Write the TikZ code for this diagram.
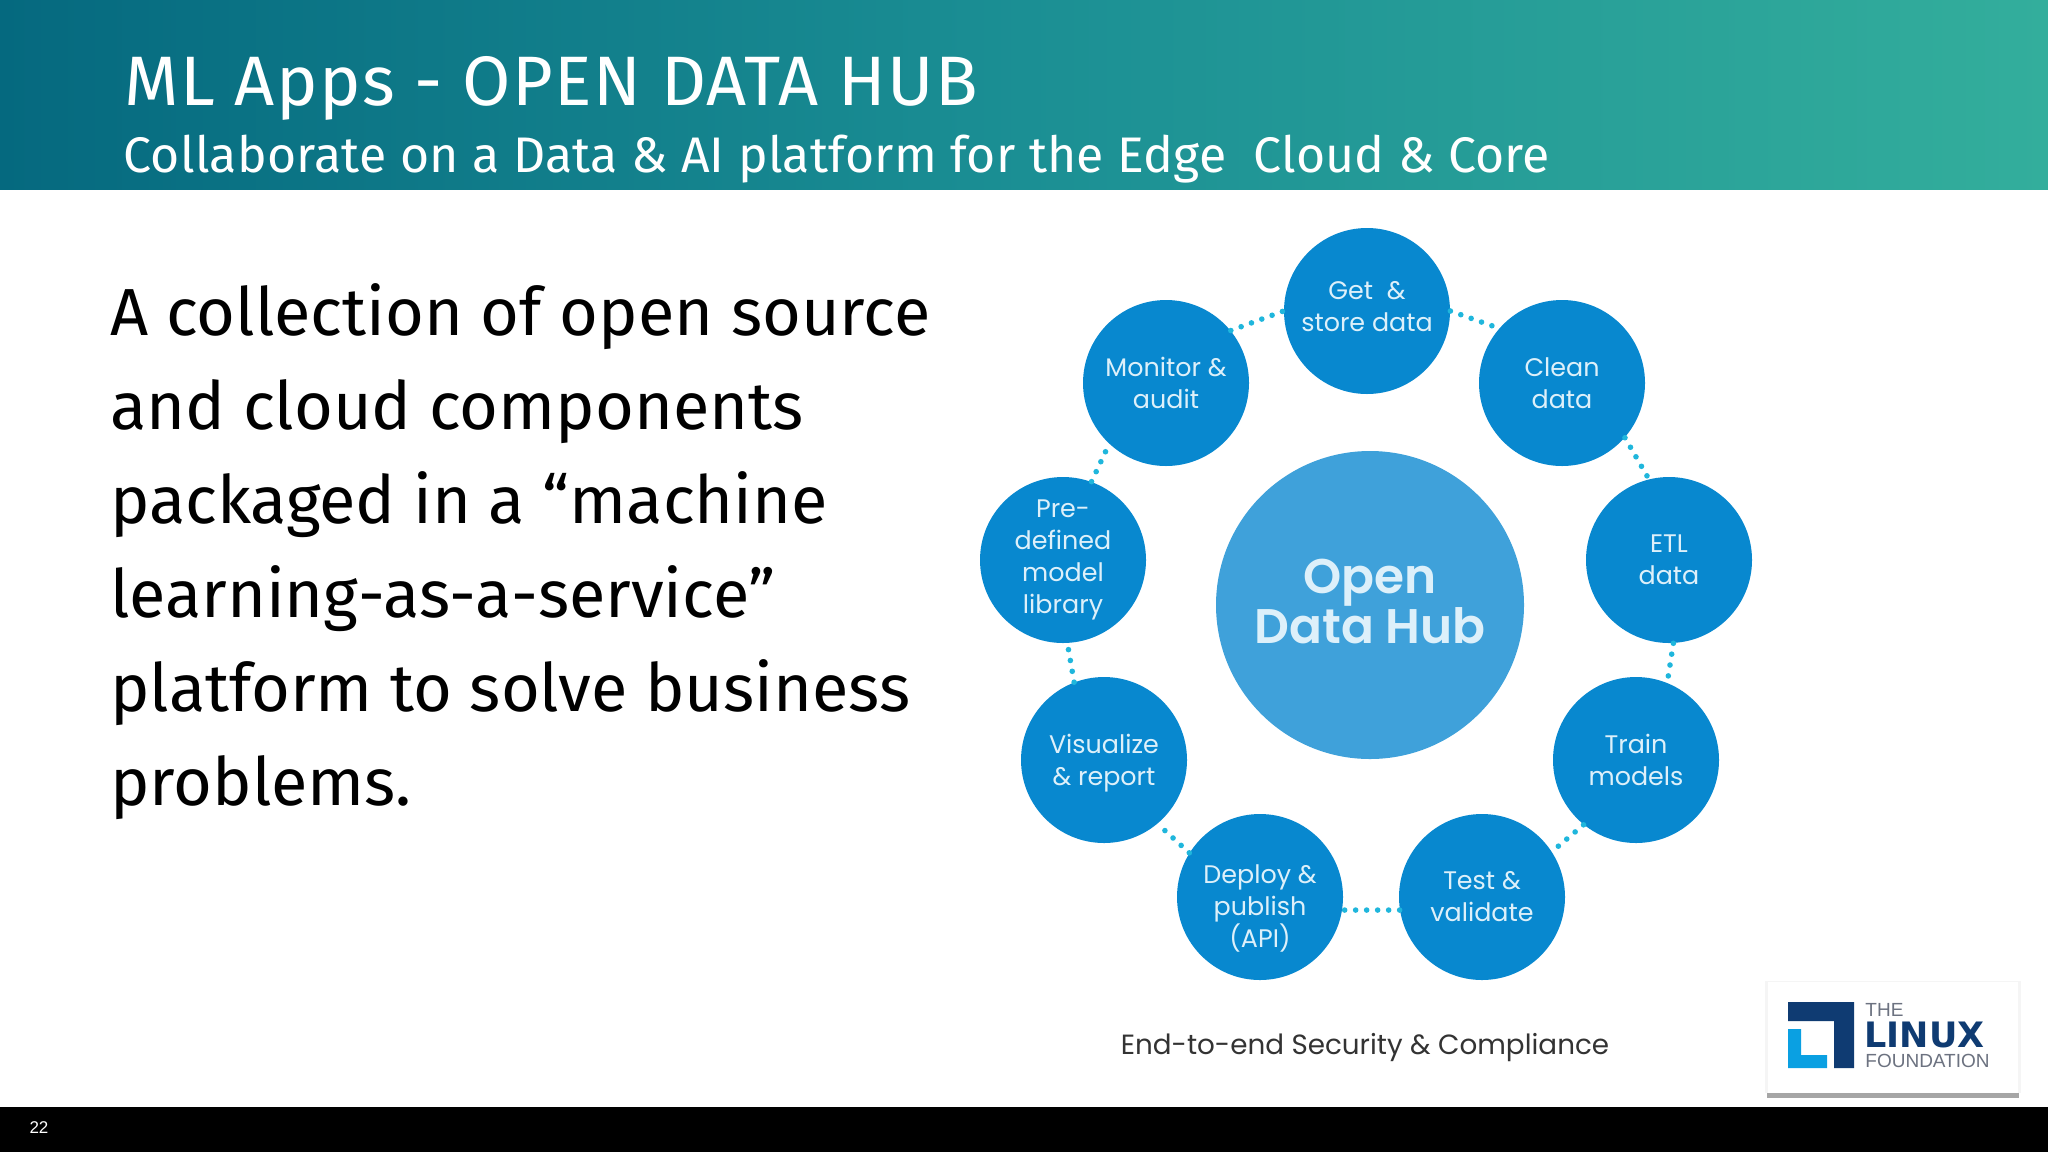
\documentclass[tikz,border=0pt]{standalone}
\usepackage{fontspec}
\setmainfont{Fira Sans}
\newfontfamily\roundfont{Poppins}
\newfontfamily\hubfont{Poppins SemiBold}
\newfontfamily\logofont{Liberation Sans}
\newfontfamily\linuxfont{DejaVu Sans}
\definecolor{headleft}{HTML}{05697F}
\definecolor{headmid}{HTML}{1B8F94}
\definecolor{headright}{HTML}{33AE9C}
\definecolor{stepblue}{HTML}{0888CF}
\definecolor{hubblue}{HTML}{3FA1DA}
\definecolor{steptext}{HTML}{DDF0FA}
\definecolor{dotcyan}{HTML}{1FB6DC}
\definecolor{logodark}{HTML}{0F3B72}
\definecolor{logolight}{HTML}{0AA0E2}
\definecolor{logogrey}{HTML}{6C7280}
\tikzset{
  stepnode/.style={circle, fill=stepblue, text=steptext, minimum size=83pt, inner sep=0pt, align=center,
    font=\roundfont\fontsize{12.7pt}{16pt}\selectfont},
  hubnode/.style={circle, fill=hubblue, text=steptext, minimum size=154pt, inner sep=0pt, align=center,
    font=\hubfont\fontsize{24.3pt}{25pt}\selectfont},
  dotlink/.style={dotcyan, line width=2.8pt, line cap=round, dash pattern=on 0pt off 5.5pt},
  titlenode/.style={text=white, anchor=base west, inner sep=0pt},
}
\begin{document}
\begin{tikzpicture}[x=0.5pt, y=-0.5pt]
  \useasboundingbox (0,0) rectangle (2048,1152);
  % Header band and footer band
  \shade[left color=headleft, right color=headright, middle color=headmid] (0,0) rectangle (2048,189);
  \fill[black] (0,1107) rectangle (2048,1152);
  \node[text=white, inner sep=0pt, font=\logofont\fontsize{8.5pt}{8pt}\selectfont] (pagenum) at (39,1128) {22};

  % Title lines
  \node[titlenode, font=\fontsize{35pt}{36pt}\selectfont\addfontfeature{LetterSpace=1.9}] (title) at (124,105) {ML Apps - OPEN DATA HUB};
  \node[titlenode, font=\fontsize{25pt}{28pt}\selectfont\addfontfeature{LetterSpace=0.5}] (subtitle) at (123,172) {Collaborate on a Data \& AI platform for the Edge\ \ Cloud \& Core};

  % Body text
  \node[anchor=north west, inner sep=0pt, align=left, text=black, font=\fontsize{33.3pt}{47pt}\selectfont] (body) at (110,283)
    {A collection of open source\\and cloud components\\packaged in a “machine\\learning-as-a-service”\\platform to solve business\\problems.};

  % Ring of steps
  \node[hubnode] (hub) at (1370,605) {Open\\Data Hub\rule[-4pt]{0pt}{0pt}};
  \node[stepnode] (get) at (1367,311) {Get\ \ \&\\store data\rule[-5pt]{0pt}{0pt}};
  \node[stepnode] (clean) at (1562,383) {Clean\\data};
  \node[stepnode] (etl) at (1669,560) {ETL\\data};
  \node[stepnode] (train) at (1636,760) {Train\\models};
  \node[stepnode] (test) at (1482,897) {Test \&\\validate};
  \node[stepnode] (deploy) at (1260,897) {\rule{0pt}{21pt}Deploy \&\\publish\\(API)};
  \node[stepnode] (visualize) at (1104,760) {\rule{0pt}{13pt}Visualize\\\& report};
  \node[stepnode] (predef) at (1063,560) {Pre-\\defined\\model\\library};
  \node[stepnode] (monitor) at (1166,383) {Monitor \&\\audit};
  \foreach \a/\p/\b/\q in {get/0/clean/139, clean/-41/etl/104, etl/-87/train/68, train/-129/test/33, test/189/deploy/-9, deploy/148/visualize/-50, visualize/111/predef/-87, predef/70/monitor/-133, monitor/39/get/180} {
    \draw[dotlink] (\a.\p) -- (\b.\q);
  }
  \node[text=black!80, inner sep=0pt, font=\roundfont\fontsize{13.9pt}{16pt}\selectfont] (caption) at (1365,1048) {End-to-end Security \& Compliance};

  % Logo card
  \fill[black!4] (1765,981) rectangle (2021,1093);
  \fill[white] (1768,982) rectangle (2018,1093);
  \fill[black!35] (1767,1093) rectangle (2019,1098);
  \fill[logodark] (1788,1002) -- (1854,1002) -- (1854,1068) -- (1834,1068) -- (1834,1021) -- (1788,1021) -- cycle;
  \fill[logolight] (1788,1029) -- (1801,1029) -- (1801,1055) -- (1827,1055) -- (1827,1068) -- (1788,1068) -- cycle;
  \node[anchor=base west, inner sep=0pt, text=logogrey, font=\logofont\fontsize{9.5pt}{10pt}\selectfont] (logothe) at (1865,1016) {THE};
  \node[anchor=base west, inner sep=0pt, text=logodark, font=\linuxfont\bfseries\fontsize{17.5pt}{20pt}\selectfont] (logolinux) at (1864,1047) {LINUX};
  \node[anchor=base west, inner sep=0pt, text=logogrey, font=\logofont\fontsize{9.5pt}{10pt}\selectfont] (logofound) at (1865,1067) {FOUNDATION};
\end{tikzpicture}
\end{document}
